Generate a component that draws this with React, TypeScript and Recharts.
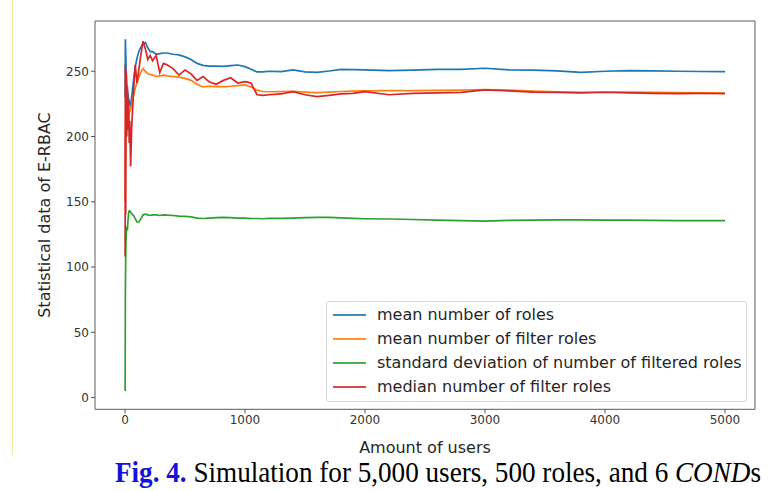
import { LineChart, Line, XAxis, YAxis, ReferenceArea } from "recharts";

// number of users simulated so far
const users = [
  1, 3, 6, 10, 15, 20, 25, 30, 35, 40, 47, 55, 65, 75, 85, 100, 115, 130, 150, 170,
  190, 210, 230, 260, 290, 320, 350, 400, 450, 500, 550, 600, 650, 700, 760, 820, 880, 940, 1000, 1050,
  1100, 1150, 1200, 1300, 1400, 1500, 1600, 1700, 1800, 1900, 2000, 2200, 2400, 2600, 2800, 3000, 3200, 3400, 3600, 3800,
  4000, 4200, 4400, 4600, 4800, 5000,
];

const meanRoles = [
  230, 274.5, 265, 250, 240, 236, 232, 229, 227, 225, 223.5, 230, 238, 246, 253, 260, 265, 268, 271, 272,
  268, 265, 265, 263, 263.5, 264, 264, 263, 262.5, 261, 259, 256, 254.5, 254, 254, 253.8, 254.3, 254.8, 253.5, 251.5,
  249.5, 249.5, 250, 249.7, 251, 249.5, 249.2, 250.2, 251.5, 251.2, 251, 250.5, 250.8, 251.5, 251.5, 252.3, 251, 250.8, 250.3, 249.2,
  250, 250.5, 250.3, 250, 249.8, 249.7,
];

const meanFilterRoles = [
  150, 200, 215, 210, 208, 215, 212, 215, 218, 219, 221, 224, 229, 233, 237, 241, 245, 249, 252, 250,
  248, 247.5, 247, 246, 246.5, 247, 246.5, 246, 245.5, 244.5, 243, 240, 238, 238.5, 238.2, 238.2, 238.5, 239, 239.5, 238,
  235.5, 234.5, 234.3, 234.4, 234.6, 234, 233.6, 234, 234.5, 234.8, 235, 235.1, 235.1, 235.3, 235.6, 236, 235.6, 234.8, 234.2, 233.8,
  234, 234, 233.8, 233.6, 233.4, 233.3,
];

const stdFilteredRoles = [
  5, 80, 110, 125, 131, 128, 136, 141, 143, 143, 142, 141, 140, 139, 137, 134.5, 134.5, 136.5, 140, 140.5,
  140, 139.5, 140, 140, 139.5, 140, 139.8, 139.5, 139, 138.8, 138.5, 137.5, 137.2, 137.5, 137.8, 138, 137.8, 137.5, 137.5, 137.2,
  137.2, 137, 137.3, 137.3, 137.5, 137.8, 138, 138, 137.6, 137.3, 137, 136.8, 136.4, 136, 135.5, 135.2, 135.8, 136, 136.2, 136.2,
  136, 136, 135.8, 135.6, 135.5, 135.5,
];

const medianFilterRoles = [
  108, 255, 140, 250, 200, 238, 205, 228, 195, 212, 177, 205, 224, 240, 255, 241, 251, 261, 273, 267,
  259, 262, 258, 262, 249, 256, 255, 252, 247, 251, 248, 243, 246, 242, 240, 243, 245, 241, 242, 241,
  232, 231.5, 232, 232.6, 234.4, 232, 230.5, 231.5, 232.6, 233, 234.4, 232, 233, 233.5, 233.8, 235.7, 235, 234, 233.8, 233.4,
  233.9, 233.4, 233, 232.8, 233, 232.8,
];

const xTicks = [0, 1000, 2000, 3000, 4000, 5000];
const yTicks = [0, 50, 100, 150, 200, 250];

const seriesNames = [
  "mean number of roles",
  "mean number of filter roles",
  "standard deviation of number of filtered roles",
  "median number of filter roles",
];
const seriesColors = ["#1f77b4", "#ff7f0e", "#2ca02c", "#d62728"];
const seriesKeys = ["meanRoles", "meanFilterRoles", "stdFilteredRoles", "medianFilterRoles"];

const data = users.map((u, i) => ({
  users: u,
  meanRoles: meanRoles[i],
  meanFilterRoles: meanFilterRoles[i],
  stdFilteredRoles: stdFilteredRoles[i],
  medianFilterRoles: medianFilterRoles[i],
}));

const sans = "'DejaVu Sans', sans-serif";
const serif = "'Liberation Serif', 'Times New Roman', serif";
const tickStyle = { fontSize: 12, fill: "#333", fontFamily: sans };

function ChartLegend() {
  return (
    <div
      style={{
        position: "absolute",
        left: 326,
        top: 301,
        width: 419,
        height: 98,
        border: "1px solid #d9d9d9",
        borderRadius: 3,
        background: "rgba(255,255,255,0.85)",
        paddingTop: 1,
        fontFamily: sans,
        fontSize: 16,
        color: "#262626",
      }}
    >
      {seriesNames.map((name, i) => (
        <div key={name} style={{ position: "relative", height: 24 }}>
          <div
            style={{
              position: "absolute",
              left: 6,
              top: 11,
              width: 33,
              height: 1.6,
              background: seriesColors[i],
              opacity: 0.85,
            }}
          />
          <div style={{ position: "absolute", left: 50, top: 2, lineHeight: "20px", whiteSpace: "nowrap" }}>
            {name}
          </div>
        </div>
      ))}
    </div>
  );
}

export default function App() {
  return (
    <div style={{ position: "absolute", left: 0, top: 0, width: 780, height: 491, background: "#fff" }}>
      <LineChart
        width={780}
        height={491}
        data={data}
        margin={{ top: 21, right: 25, bottom: 51.7, left: 35 }}
      >
        <XAxis
          dataKey="users"
          type="number"
          domain={[-250, 5250]}
          ticks={xTicks}
          allowDataOverflow
          height={30}
          tickSize={4}
          tickMargin={2}
          axisLine={false}
          tickLine={{ stroke: "#555" }}
          tick={tickStyle}
        />
        <YAxis
          type="number"
          domain={[-9, 288.5]}
          ticks={yTicks}
          allowDataOverflow
          width={60}
          tickSize={4}
          tickMargin={2}
          axisLine={false}
          tickLine={{ stroke: "#555" }}
          tick={tickStyle}
        />
        <ReferenceArea x1={-250} x2={5250} y1={-9} y2={288.5} fill="none" stroke="#5c5c5c" strokeWidth={1} />
        {seriesKeys.map((k, i) => (
          <Line
            key={k}
            dataKey={k}
            type="linear"
            stroke={seriesColors[i]}
            strokeWidth={1.7}
            dot={false}
            activeDot={false}
            isAnimationActive={false}
          />
        ))}
      </LineChart>
      <svg
        width={780}
        height={491}
        style={{ position: "absolute", left: 0, top: 0, pointerEvents: "none" }}
      >
        <line x1={12.5} y1={0} x2={12.5} y2={456} stroke="#f5eea0" strokeWidth={1} />
        <text
          transform="translate(50, 215) rotate(-90)"
          textAnchor="middle"
          fontFamily={sans}
          fontSize={16}
          fill="#262626"
        >
          Statistical data of E-RBAC
        </text>
        <text x={425} y={453} textAnchor="middle" fontFamily={sans} fontSize={16} fill="#262626">
          Amount of users
        </text>
        <g transform="translate(115, 482) scale(0.936, 1)">
          <text x={0} y={0} fontFamily={serif} fontSize={29} fill="#000">
            <tspan fill="#1414d8" fontWeight="bold">Fig. 4.</tspan>
            <tspan> Simulation for 5,000 users, 500 roles, and 6 </tspan>
            <tspan fontStyle="italic">COND</tspan>
            <tspan>s</tspan>
          </text>
        </g>
      </svg>
      <ChartLegend />
    </div>
  );
}
